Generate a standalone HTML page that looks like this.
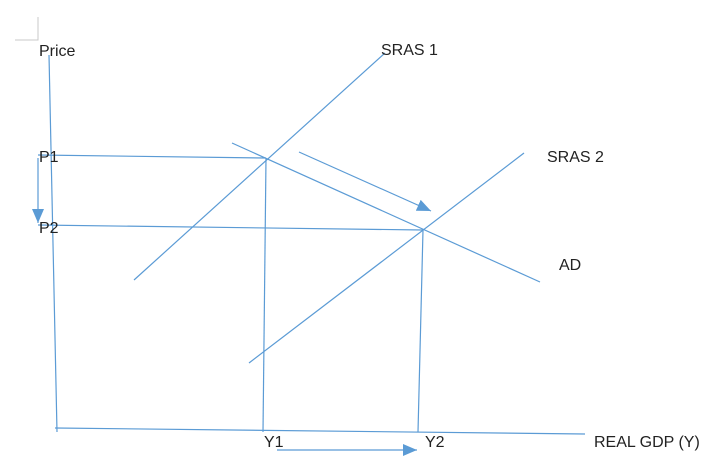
<!DOCTYPE html>
<html><head><meta charset="utf-8"><style>
html,body{margin:0;padding:0;background:#fff;}
svg{display:block;}
text{font-family:"Liberation Sans",sans-serif;font-size:16px;fill:#222;}
</style></head><body>
<svg width="720" height="458" viewBox="0 0 720 458" xmlns="http://www.w3.org/2000/svg">
<defs>
<marker id="b" markerWidth="14" markerHeight="12" refX="14" refY="6" orient="auto" markerUnits="userSpaceOnUse" viewBox="0 0 14 12">
<path d="M0,0 L14,6 L0,12 z" fill="#5b9bd5"/></marker>
</defs>
<path d="M15,40 H38 V17" fill="none" stroke="#c8c8c8" stroke-width="1"/>
<g stroke="#5b9bd5" stroke-width="1.2" fill="none">
<line x1="49" y1="55" x2="57" y2="432"/>
<line x1="55" y1="428" x2="585" y2="434"/>
<line x1="38" y1="155" x2="266" y2="158"/>
<line x1="38" y1="225" x2="423" y2="230"/>
<line x1="134" y1="280" x2="385" y2="53"/>
<line x1="249" y1="363" x2="524" y2="153"/>
<line x1="232" y1="143" x2="540" y2="282"/>
<line x1="266" y1="158" x2="263" y2="432"/>
<line x1="423" y1="230" x2="418" y2="432"/>
<line x1="38" y1="158" x2="38" y2="223" marker-end="url(#b)"/>
<line x1="299" y1="152" x2="431" y2="211" marker-end="url(#b)"/>
<line x1="277" y1="450" x2="417" y2="450" marker-end="url(#b)"/>
</g>
<text x="39" y="56">Price</text>
<text x="381" y="55">SRAS 1</text>
<text x="547" y="162">SRAS 2</text>
<text x="559" y="270">AD</text>
<text x="39" y="162">P1</text>
<text x="39" y="233">P2</text>
<text x="264" y="447">Y1</text>
<text x="425" y="447">Y2</text>
<text x="594" y="447">REAL GDP (Y)</text>
</svg>
</body></html>
